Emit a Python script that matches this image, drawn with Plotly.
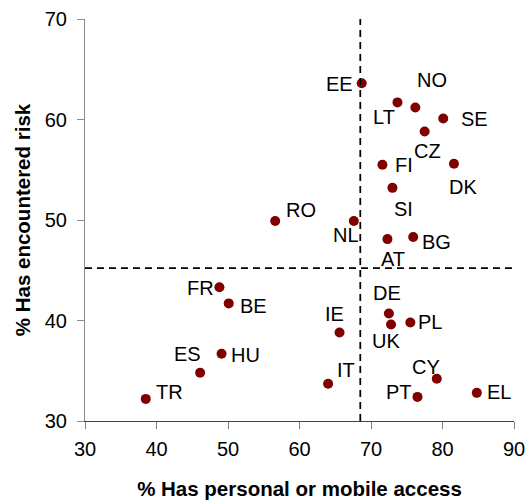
import plotly.graph_objects as go

# Country codes and the two survey percentages
countries = ["EE", "NO", "LT", "SE", "CZ", "FI", "DK", "SI", "RO", "NL", "BG", "AT",
             "DE", "UK", "PL", "IE", "IT", "CY", "PT", "EL", "FR", "BE", "HU", "ES", "TR"]
access_pct = [68.7, 76.2, 73.7, 80.1, 77.5, 71.6, 81.6, 73.0, 56.6, 67.6, 75.9, 72.3,
              72.5, 72.8, 75.5, 65.6, 64.0, 79.2, 76.5, 84.8, 48.8, 50.1, 49.1, 46.1, 38.5]
risk_pct = [63.6, 61.2, 61.7, 60.1, 58.8, 55.5, 55.6, 53.2, 49.9, 49.9, 48.3, 48.1,
            40.7, 39.6, 39.8, 38.8, 33.7, 34.2, 32.4, 32.8, 43.3, 41.7, 36.7, 34.8, 32.2]

# Averages used for the quadrant split
access_mean = 68.5
risk_mean = 45.2

x_ticks = [30, 40, 50, 60, 70, 80, 90]
y_ticks = [30, 40, 50, 60, 70]

# Pixel offsets of each country label from its marker (dx right, dy up)
label_offsets = {
    "EE": (-22, -2), "NO": (17, 26), "LT": (-13, -16), "SE": (31, -2), "CZ": (3, -20),
    "FI": (22, -1), "DK": (9, -24), "SI": (11, -22), "RO": (26, 10), "NL": (-8, -15),
    "BG": (23, -6), "AT": (6, -21), "DE": (-2, 19), "UK": (-5, -17), "PL": (20, 0),
    "IE": (-5, 18), "IT": (18, 13), "CY": (-11, 11), "PT": (-18, 4), "EL": (22, 0),
    "FR": (-19, -2), "BE": (25, -4), "HU": (24, -2), "ES": (-13, 18), "TR": (24, 6),
}

FONT = "Arial, Liberation Sans, sans-serif"

fig = go.Figure()
fig.add_trace(go.Scatter(
    x=access_pct, y=risk_pct, mode="markers",
    marker=dict(color="#800000", size=10),
    text=countries, hoverinfo="text", showlegend=False,
))

for c, xv, yv in zip(countries, access_pct, risk_pct):
    dx, dy = label_offsets[c]
    fig.add_annotation(x=xv, y=yv, text=c, showarrow=False,
                       xshift=dx, yshift=dy + 1,
                       font=dict(family=FONT, size=20, color="#000000"))

# Dashed quadrant dividers
divider = dict(color="#000000", width=1.75, dash="7px,5px")
fig.add_shape(type="line", xref="x", yref="y", x0=access_mean, x1=access_mean,
              y0=30, y1=70.2, line=divider)
fig.add_shape(type="line", xref="x", yref="y", x0=30, x1=90,
              y0=risk_mean, y1=risk_mean, line=divider)

fig.update_layout(
    width=526, height=504,
    margin=dict(l=85, r=12, t=19, b=83, autoexpand=False),
    paper_bgcolor="white", plot_bgcolor="white",
    font=dict(family=FONT, size=20, color="#000000"),
    xaxis=dict(
        range=[30, 90], tickvals=x_ticks, ticktext=[str(v) for v in x_ticks],
        showgrid=False, zeroline=False, automargin=False,
        showline=True, linecolor="#404040", linewidth=1,
        ticks="outside", ticklen=7, tickcolor="#808080",
        ticklabelstandoff=3,
        tickfont=dict(family=FONT, size=20),
        title=dict(text="<b>% Has personal or mobile access</b>",
                   font=dict(family=FONT, size=20.5), standoff=22),
    ),
    yaxis=dict(
        range=[30, 70], tickvals=y_ticks, ticktext=[str(v) for v in y_ticks],
        showgrid=False, zeroline=False, automargin=False,
        showline=True, linecolor="#8c8c8c", linewidth=1,
        ticks="outside", ticklen=7, tickcolor="#8c8c8c",
        ticklabelstandoff=6,
        tickfont=dict(family=FONT, size=20),
        title=dict(text="<b>% Has encountered risk</b>",
                   font=dict(family=FONT, size=20.5), standoff=8),
    ),
)

fig.write_html("out.html")
